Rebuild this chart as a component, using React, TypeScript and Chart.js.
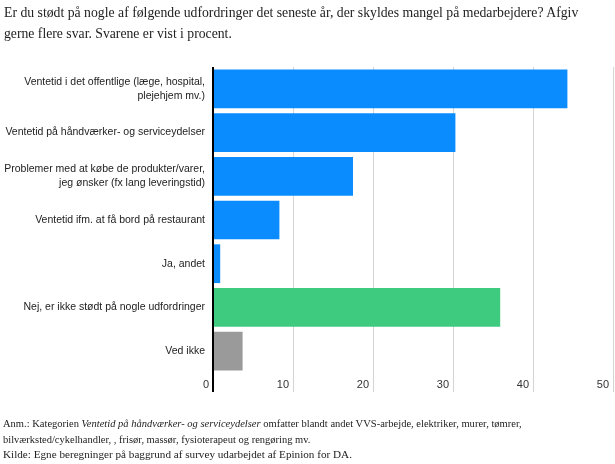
import React, { useEffect, useLayoutEffect, useRef } from "react";
import { Chart, registerables } from "chart.js";

Chart.register(...registerables);

const categories: (string | string[])[] = [
  ["Ventetid i det offentlige (læge, hospital,", "plejehjem mv.)"],
  "Ventetid på håndværker- og serviceydelser",
  ["Problemer med at købe de produkter/varer,", "jeg ønsker (fx lang leveringstid)"],
  "Ventetid ifm. at få bord på restaurant",
  "Ja, andet",
  "Nej, er ikke stødt på nogle udfordringer",
  "Ved ikke",
];
const values = [44.3, 30.3, 17.5, 8.3, 0.9, 35.9, 3.7];
const barColors = ["#0a8cff", "#0a8cff", "#0a8cff", "#0a8cff", "#0a8cff", "#3ecb80", "#9a9a9a"];
const xMin = 0;
const xMax = 50;
const xStep = 10;

const titleLines = [
  "Er du stødt på nogle af følgende udfordringer det seneste år, der skyldes mangel på medarbejdere? Afgiv",
  "gerne flere svar. Svarene er vist i procent.",
];

function FitText({ width, children }: { width: number; children: React.ReactNode }) {
  const ref = useRef<HTMLSpanElement | null>(null);
  useLayoutEffect(() => {
    const el = ref.current;
    if (!el) return;
    const fit = () => {
      el.style.transform = "none";
      const w = el.offsetWidth;
      if (w > 0) el.style.transform = `scaleX(${width / w})`;
    };
    fit();
    if ((document as any).fonts && (document as any).fonts.ready) {
      (document as any).fonts.ready.then(fit);
    }
  }, [width]);
  return (
    <span
      ref={ref}
      style={{ display: "inline-block", whiteSpace: "nowrap", transformOrigin: "0 0" }}
    >
      {children}
    </span>
  );
}

export default function App() {
  const ref = useRef<HTMLCanvasElement | null>(null);
  useEffect(() => {
    document.body.style.margin = "0";
    const ctx = ref.current!;
    const chart = new Chart(ctx, {
      type: "bar",
      data: {
        labels: categories,
        datasets: [
          {
            data: values,
            backgroundColor: barColors,
            borderWidth: 0,
            barPercentage: 0.886,
            categoryPercentage: 1,
          },
        ],
      },
      options: {
        indexAxis: "y",
        animation: false,
        responsive: false,
        maintainAspectRatio: false,
        layout: { padding: { top: 67, bottom: 69, left: 0, right: 2 } },
        plugins: { legend: { display: false }, tooltip: { enabled: false } },
        scales: {
          x: {
            min: xMin,
            max: xMax,
            afterFit: (s: any) => {
              s.height = 22;
            },
            border: { display: false },
            grid: {
              color: (c: any) => (c.tick && c.tick.value === 0 ? "#000" : "#d4d4d4"),
              lineWidth: (c: any) => (c.tick && c.tick.value === 0 ? 2 : 1),
              drawTicks: true,
              tickLength: 19,
            },
            ticks: {
              stepSize: xStep,
              align: "end",
              labelOffset: -4,
              padding: -14,
              maxRotation: 0,
              autoSkip: false,
              color: "#333",
              font: { family: "'Liberation Sans', Arial, sans-serif", size: 11 },
            },
          },
          y: {
            afterFit: (s: any) => {
              s.width = 213;
            },
            border: { display: false },
            grid: { display: false, drawTicks: false },
            ticks: {
              padding: 8,
              color: "#222",
              font: { family: "'Liberation Sans', Arial, sans-serif", size: 10.5, lineHeight: 1.3 },
            },
          },
        },
      },
    });
    return () => chart.destroy();
  }, []);

  return (
    <div
      style={{
        position: "absolute",
        left: 0,
        top: 0,
        width: 615,
        height: 464,
        background: "#fff",
        fontFamily: "'Liberation Serif', 'Times New Roman', serif",
        color: "#222",
        overflow: "hidden",
      }}
    >
      <canvas ref={ref} width={615} height={464} style={{ position: "absolute", left: 0, top: 0 }} />
      <div style={{ position: "absolute", left: 4, top: 2, fontSize: 14, lineHeight: "21px" }}>
        <div>
          <FitText width={574}>{titleLines[0]}</FitText>
        </div>
        <div>
          <FitText width={228}>{titleLines[1]}</FitText>
        </div>
      </div>
      <div style={{ position: "absolute", left: 3, top: 416, fontSize: 11, lineHeight: "15.5px" }}>
        <div>
          <FitText width={519}>
            Anm.: Kategorien <i>Ventetid på håndværker- og serviceydelser</i> omfatter blandt andet VVS-arbejde,
            elektriker, murer, tømrer,
          </FitText>
        </div>
        <div>
          <FitText width={307}>bilværksted/cykelhandler, , frisør, massør, fysioterapeut og rengøring mv.</FitText>
        </div>
        <div>
          <FitText width={349}>Kilde: Egne beregninger på baggrund af survey udarbejdet af Epinion for DA.</FitText>
        </div>
      </div>
    </div>
  );
}
